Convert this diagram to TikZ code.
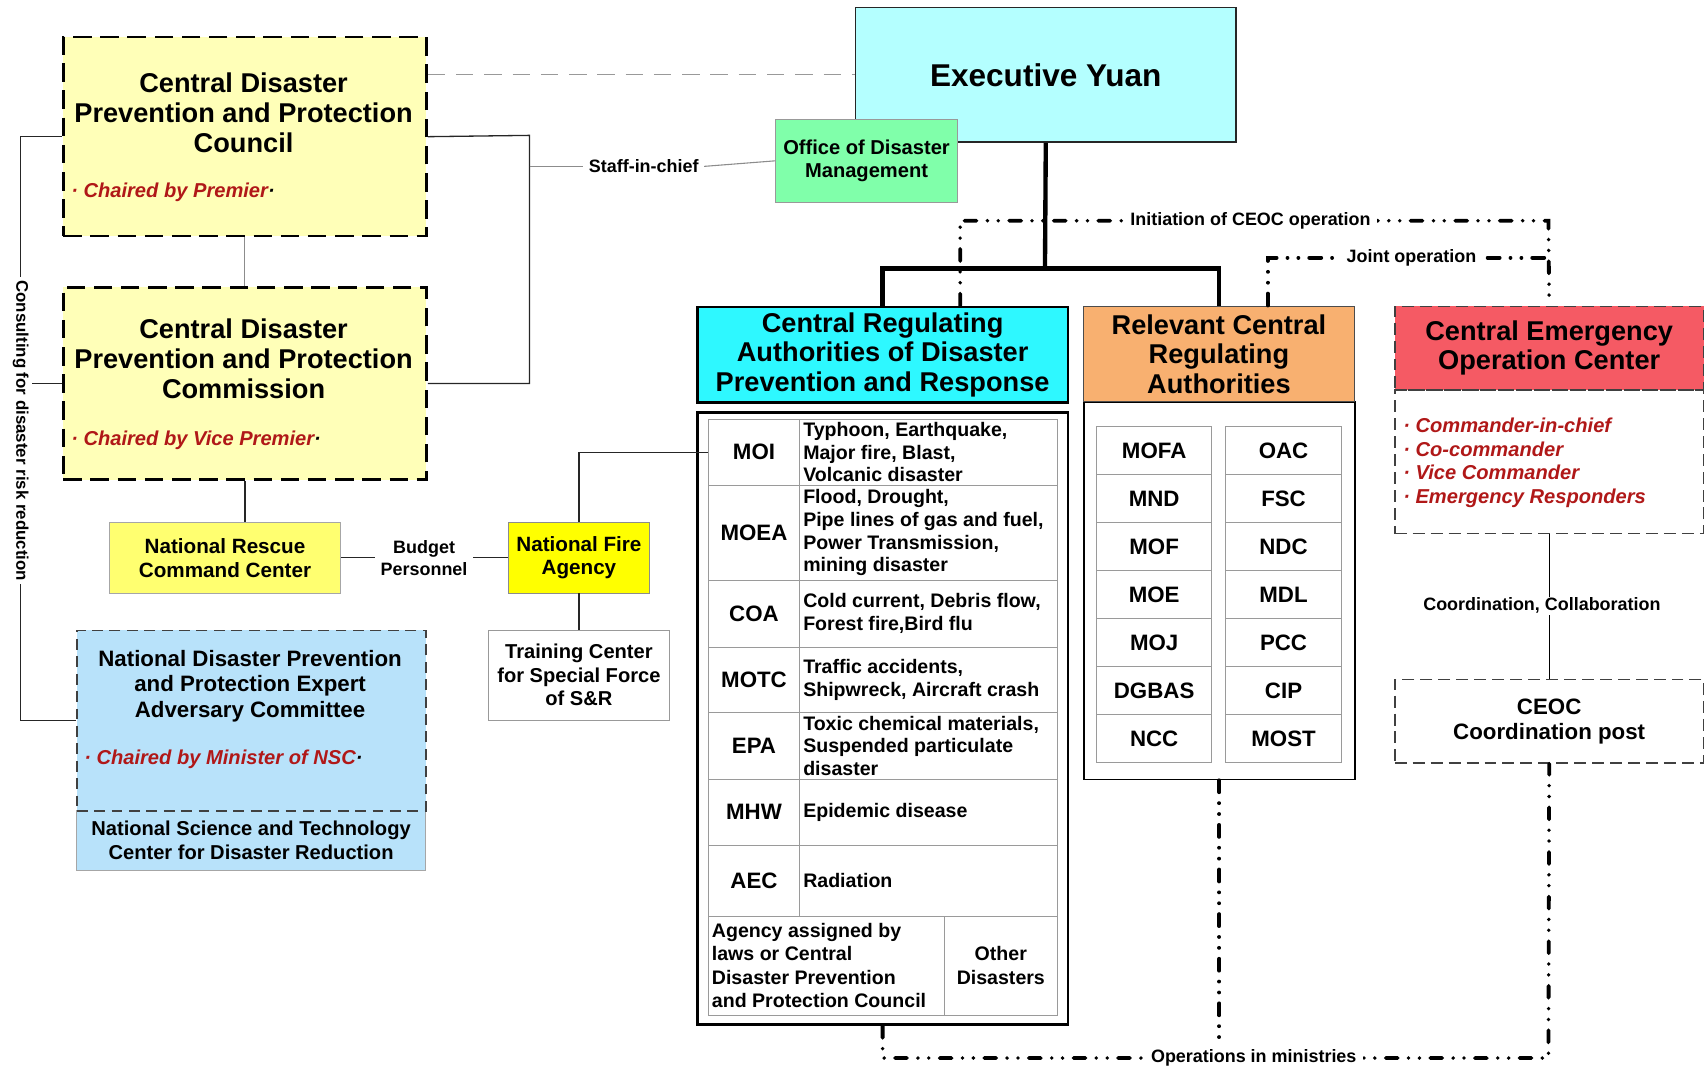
\documentclass[tikz,border=0pt]{standalone}
\usepackage{fontspec}
\setmainfont{Liberation Sans}
\newcommand{\myfz}[2]{\fontsize{#1}{#2}\selectfont\bfseries}
\definecolor{eyc}{HTML}{B4FFFF}
\definecolor{odmc}{HTML}{80FFAA}
\definecolor{lyel}{HTML}{FFFFB8}
\definecolor{myel}{HTML}{FFFF70}
\definecolor{byel}{HTML}{FFFF00}
\definecolor{lblue}{HTML}{B8E2FA}
\definecolor{cyanh}{HTML}{2EF8FF}
\definecolor{orah}{HTML}{F8B070}
\definecolor{redh}{HTML}{F55A64}
\definecolor{redt}{HTML}{B01818}
\definecolor{cellg}{HTML}{9A9A9A}
\begin{document}
\begin{tikzpicture}[x=1pt,y=-1pt,
  nbox/.style={anchor=north west, inner sep=0pt, align=center},
  dbox/.style={draw=black, line width=2.4pt, dash pattern=on 17pt off 8pt},
  cdash/.style={draw=black!75, line width=1.4pt, dash pattern=on 11pt off 5.5pt},
  lcell/.style={nbox, draw=cellg, line width=0.8pt, minimum width=84pt, font=\myfz{20.5}{22}},
  rcell/.style={nbox, draw=cellg, line width=0.8pt, minimum width=237pt},
  ttxt/.style={anchor=west, inner sep=0pt, xshift=3.5pt, align=left, font=\myfz{18}{20.8}},
  gcell/.style={nbox, draw=cellg, line width=0.8pt, minimum width=106pt, minimum height=44.14pt, font=\myfz{20.5}{22}},
  redtxt/.style={text=redt, font=\myfz{18.5}{21.7}\itshape},
  lbl/.style={font=\myfz{16.5}{20}, fill=white, inner sep=5pt, align=center},
  ddline/.style={line width=3.5pt, line cap=round, dash pattern=on 11pt off 10pt on 0.01pt off 10pt on 0.01pt off 10pt},
  conn/.style={black!85, line width=1.2pt},
  gline/.style={black!45, line width=1pt}
]
\useasboundingbox (0,0) rectangle (1568,982);

% ---- left column boxes ----
\node[nbox, dbox, fill=lyel, minimum width=334pt, minimum height=183pt] (council) at (57,33) {};
\node[font=\myfz{25}{27.5}, align=center] (councilT) at (224,104) {Central Disaster\\Prevention and Protection\\Council};
\node[redtxt, anchor=west] (councilC) at (62,177) {· Chaired by Premier\textcolor{black}{·}};

\node[nbox, dbox, fill=lyel, minimum width=334pt, minimum height=177pt] (commission) at (57,263) {};
\node[font=\myfz{25}{27.5}, align=center] (commissionT) at (224,330) {Central Disaster\\Prevention and Protection\\Commission};
\node[redtxt, anchor=west] (commissionC) at (62,405) {· Chaired by Vice Premier\textcolor{black}{·}};

\node[nbox, fill=myel, draw=black!35, line width=0.8pt, minimum width=213pt, minimum height=65pt, font=\myfz{19}{22}] (nrcc) at (100,480) {National Rescue\\Command Center};
\node[nbox, fill=byel, draw=black!45, line width=0.8pt, minimum width=130pt, minimum height=65pt, font=\myfz{19}{22}] (nfa) at (467,480) {National Fire\\Agency};
\node[nbox, fill=white, draw=black!40, line width=0.8pt, minimum width=166pt, minimum height=83pt, font=\myfz{18.5}{21.5}] (tc) at (449,579) {Training Center\\for Special Force\\of S\&R};

\node[nbox, fill=lblue, draw=black!35, line width=0.8pt, minimum width=321pt, minimum height=55pt, font=\myfz{18.5}{22}] (nstc) at (70,745) {National Science and Technology\\Center for Disaster Reduction};
\node[nbox, fill=lblue, draw=black!75, line width=1.3pt, dash pattern=on 10pt off 6pt, minimum width=321pt, minimum height=166pt] (expert) at (70,579) {};
\node[font=\myfz{20.5}{23.5}, align=center] (expertT) at (230,631) {National Disaster Prevention\\and Protection Expert\\Adversary Committee};
\node[redtxt, anchor=west] (expertC) at (74,698) {· Chaired by Minister of NSC\textcolor{black}{·}};

\node[font=\myfz{15.5}{17}, rotate=-90, inner sep=3pt] (consult) at (19,396) {Consulting for disaster risk reduction};

% ---- top ----
\node[nbox, fill=eyc, draw=black!85, line width=1.5pt, minimum width=350pt, minimum height=124pt, font=\myfz{29}{32}] (ey) at (786,6) {Executive Yuan};
\draw[black!40, line width=1pt, dash pattern=on 16pt off 10pt] (ey.west -| council.east) -- (ey.west);
\node[nbox, fill=odmc, draw=black!40, line width=0.8pt, minimum width=167pt, minimum height=77pt, font=\myfz{18.5}{22}] (odm) at (713,109) {Office of Disaster\\Management};

% ---- central regulating ----
\node[nbox, fill=cyanh, draw=black, line width=2.4pt, minimum width=341pt, minimum height=88pt, font=\myfz{25}{27}] (crh) at (640,281) {Central Regulating\\Authorities of Disaster\\Prevention and Response};
\node[nbox, draw=black, line width=2.4pt, minimum width=341pt, minimum height=563pt] (tbl) at (640,378) {};

\node[lcell, minimum height=61pt] (moi) at (651,385) {MOI};
\node[rcell, minimum height=61pt] (moiC) at (735,385) {};
\node[ttxt] (moiT) at (moiC.west) {Typhoon, Earthquake,\\Major fire, Blast,\\Volcanic disaster};
\node[lcell, minimum height=87pt] (moea) at (651,446) {MOEA};
\node[rcell, minimum height=87pt] (moeaC) at (735,446) {};
\node[ttxt] (moeaT) at (moeaC.west) {Flood, Drought,\\Pipe lines of gas and fuel,\\Power Transmission,\\mining disaster};
\node[lcell, minimum height=62pt] (coa) at (651,533) {COA};
\node[rcell, minimum height=62pt] (coaC) at (735,533) {};
\node[ttxt] (coaT) at (coaC.west) {Cold current, Debris flow,\\Forest fire,Bird flu};
\node[lcell, minimum height=60pt] (motc) at (651,595) {MOTC};
\node[rcell, minimum height=60pt] (motcC) at (735,595) {};
\node[ttxt] (motcT) at (motcC.west) {Traffic accidents,\\Shipwreck, Aircraft crash};
\node[lcell, minimum height=61pt] (epa) at (651,655) {EPA};
\node[rcell, minimum height=61pt] (epaC) at (735,655) {};
\node[ttxt] (epaT) at (epaC.west) {Toxic chemical materials,\\Suspended particulate\\disaster};
\node[lcell, minimum height=61pt] (mhw) at (651,716) {MHW};
\node[rcell, minimum height=61pt] (mhwC) at (735,716) {};
\node[ttxt] (mhwT) at (mhwC.west) {Epidemic disease};
\node[lcell, minimum height=65pt] (aec) at (651,777) {AEC};
\node[rcell, minimum height=65pt] (aecC) at (735,777) {};
\node[ttxt] (aecT) at (aecC.west) {Radiation};
\node[nbox, draw=cellg, line width=0.8pt, minimum width=217pt, minimum height=91pt] (agency) at (651,842) {};
\node[ttxt, font=\myfz{18}{21.3}] (agencyT) at (agency.west) {Agency assigned by\\laws or Central\\Disaster Prevention\\and Protection Council};
\node[nbox, draw=cellg, line width=0.8pt, minimum width=104pt, minimum height=91pt, font=\myfz{18}{21.3}] (other) at (868,842) {Other\\Disasters};

% ---- relevant ----
\node[nbox, draw=black, line width=1.6pt, minimum width=249pt, minimum height=347pt] (rb) at (996,369) {};
\node[nbox, fill=orah, draw=black!70, line width=1pt, minimum width=249pt, minimum height=88pt, font=\myfz{25}{27}] (rh) at (996,281) {Relevant Central\\Regulating\\Authorities};
\foreach \a/\b [count=\i] in {MOFA/OAC,MND/FSC,MOF/NDC,MOE/MDL,MOJ/PCC,DGBAS/CIP,NCC/MOST}{
  \node[gcell] (ra\i) at (1008,{392+(\i-1)*44.14}) {\a};
  \node[gcell] (rc\i) at (1127,{392+(\i-1)*44.14}) {\b};
}

% ---- CEOC ----
\node[nbox, cdash, fill=redh, minimum width=284pt, minimum height=77pt, font=\myfz{25}{27}] (ceoch) at (1282,281) {Central Emergency\\Operation Center};
\node[nbox, cdash, minimum width=284pt, minimum height=132pt] (ceocb) at (1282,358) {};
\node[redtxt, anchor=west, align=left] (ceocl) at (1287,425.5) {· Commander-in-chief\\· Co-commander\\· Vice Commander\\· Emergency Responders};
\node[nbox, cdash, minimum width=284pt, minimum height=77pt, font=\myfz{20.5}{23}] (post) at (1282,624) {CEOC\\Coordination post};

% ---- connectors ----
\draw[gline] (council.south) -- (commission.north);
\draw[conn] (council.west) -| (consult.west);
\draw[conn] (consult.east) |- (expert.west);
\draw[conn] (commission.west) -- (commission.west -| consult.north);
\coordinate (rbk) at (487,124.5);
\draw[conn] (council.east) -- (rbk) |- (commission.east);
\coordinate (sc) at (487,153);
\node[lbl] (staff) at (592,153) {Staff-in-chief};
\draw[gline] (sc) -- (staff.west);
\draw[gline] (staff.east) -- (odm.west);
\draw[conn] (commission.south) -- (commission.south |- nrcc.north);
\node[lbl] (budget) at (390,513) {Budget\\Personnel};
\draw[conn] (nrcc.east) -- (nrcc.east -| budget.west);
\draw[conn] (nfa.west -| budget.east) -- (nfa.west);
\draw[conn] (nfa.north) |- (moi.west);
\draw[conn] (nfa.south) -- (tc.north);

\coordinate (jn) at (961,247);
\draw[line width=4pt] (ey.south) -- (jn);
\draw[line width=4pt] (crh.north) |- (jn) -| (rh.north);

\coordinate (i1) at (883,281);
\coordinate (ic) at (1424,203);
\draw[ddline] (i1) |- (ic) -- (ceoch.north);
\node[lbl, inner sep=6pt] (init) at (1150,203) {Initiation of CEOC operation};
\coordinate (j1) at (1166,281);
\coordinate (jc) at (1424,237);
\draw[ddline] (j1) |- (jc);
\node[lbl, inner sep=6pt] (joint) at (1298,237) {Joint operation};

\coordinate (oc) at (1424,973);
\draw[ddline] (tbl.south) |- (oc) -- (post.south);
\draw[ddline] (rb.south) -- (rb.south |- oc);
\node[lbl, inner sep=6pt] (ops) at (1153,973) {Operations in ministries};

\draw[line width=1pt] (ceocb.south) -- (post.north);
\node[lbl, inner sep=1pt] (coord) at (1418,557) {Coordination, Collaboration};
\end{tikzpicture}
\end{document}
